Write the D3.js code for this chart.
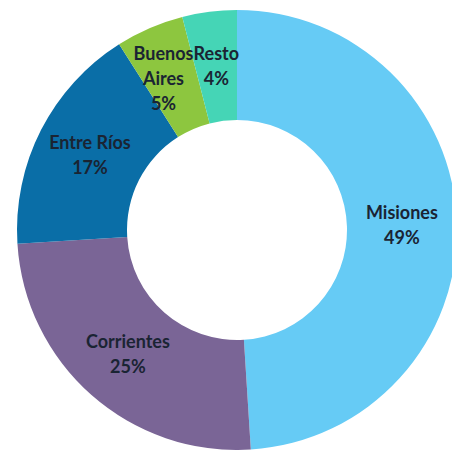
<!DOCTYPE html>
<html>
<head>
<meta charset="utf-8">
<script src="https://cdn.jsdelivr.net/npm/d3@7"></script>
<style>
  body { margin: 0; background: #fff; }
  svg text { font-family: Lato, "Open Sans", sans-serif; font-weight: bold; }
</style>
</head>
<body>
<svg width="452" height="450"></svg>
<script>
/**Data**/
var provinces = ["Misiones", "Corrientes", "Entre Ríos", "Buenos Aires", "Resto"];
var shares = [49, 25, 17, 5, 4];
var labelLines = [["Misiones"], ["Corrientes"], ["Entre Ríos"], ["Buenos", "Aires"], ["Resto"]];
var colors = ["#66CBF5", "#7A6596", "#0A6EA7", "#8DC63F", "#45D5B6"];

var svg = d3.select("svg");
var cx = 237, cy = 230;
var outerR = 220, innerR = 110;

var data = provinces.map(function(p, i) {
	return { name: p, value: shares[i], lines: labelLines[i], color: colors[i] };
});

var pie = d3.pie()
	.sort(null)
	.value(function(d) { return d.value; });

var arc = d3.arc()
	.innerRadius(innerR)
	.outerRadius(outerR);

var g = svg.append("g")
	.attr("transform", "translate(" + cx + "," + cy + ")");

//slices
g.selectAll("path")
	.data(pie(data))
	.enter().append("path")
	.attr("d", arc)
	.attr("fill", function(d) { return d.data.color; });

//labels: name lines + percent, centred on the slice centroid
//Buenos Aires is pushed left a bit so it does not run into Resto
var nudge = { "Buenos Aires": -8 };
var lineH = 25;

var label = g.selectAll("text")
	.data(pie(data))
	.enter().append("text")
	.attr("text-anchor", "middle")
	.attr("font-size", 18)
	.attr("fill", "#1a2433")
	.attr("transform", function(d) {
		var c = arc.centroid(d);
		var dx = nudge[d.data.name] || 0;
		return "translate(" + (c[0] + dx) + "," + c[1] + ")";
	});

label.each(function(d) {
	var lines = d.data.lines.concat([d.data.value + "%"]);
	var t = d3.select(this);
	var top = -(lines.length - 1) * lineH / 2;
	lines.forEach(function(s, i) {
		t.append("tspan")
			.attr("x", 0)
			.attr("y", top + i * lineH)
			.attr("dy", "0.35em")
			.text(s);
	});
});
</script>
</body>
</html>
